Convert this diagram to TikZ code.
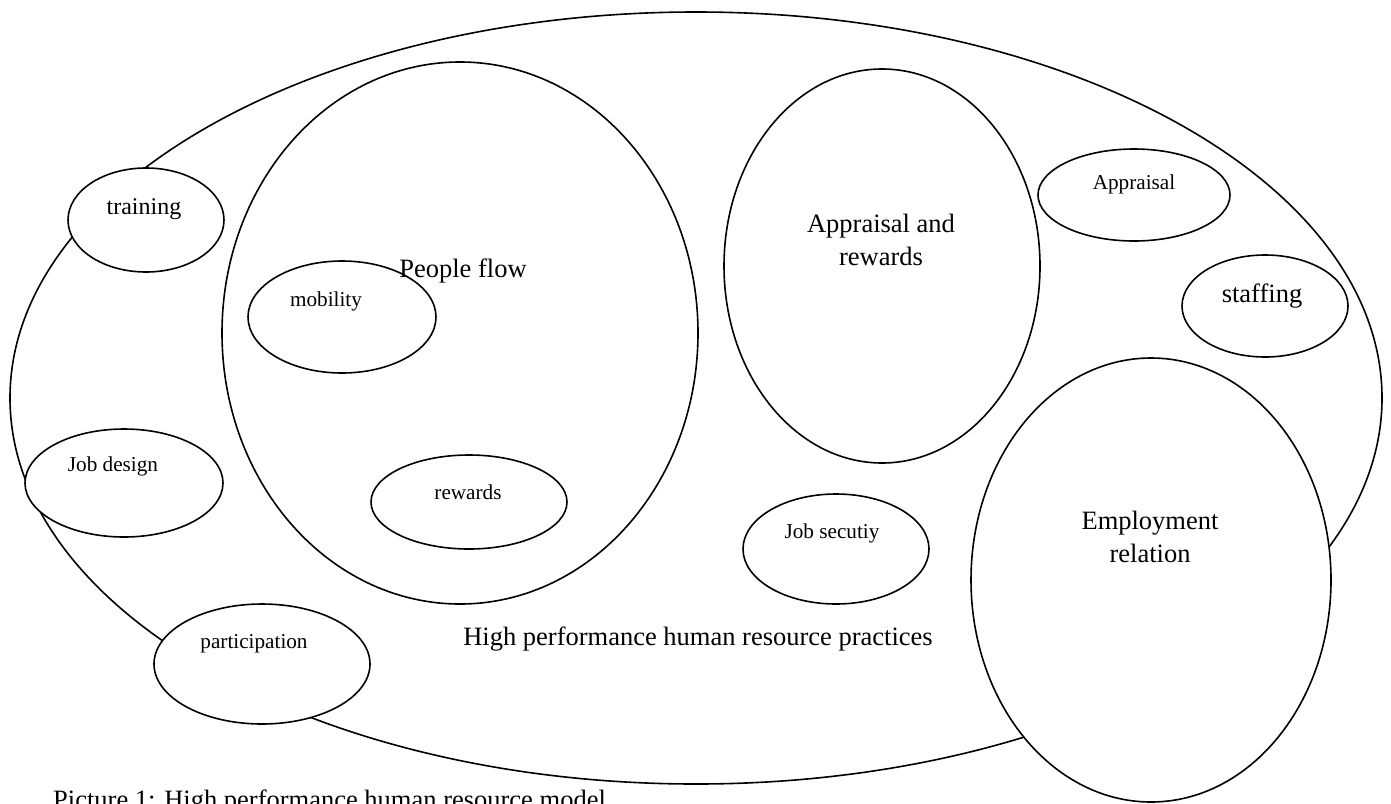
\documentclass[tikz,border=0pt]{standalone}
\usepackage{fontspec}
\setmainfont{Liberation Serif}
\usetikzlibrary{shapes.geometric}
\tikzset{
  oval/.style={ellipse, draw, fill=white, line width=1.6pt, inner sep=0pt},
  bigtext/.style={font=\fontsize{26.5}{32.5}\selectfont, align=center, inner sep=0pt},
  midtext/.style={font=\fontsize{24}{28}\selectfont, inner sep=0pt},
  smalltext/.style={font=\fontsize{21.2}{25}\selectfont, inner sep=0pt},
}
\begin{document}
\begin{tikzpicture}[x=1pt,y=-1pt]
\useasboundingbox (0,0) rectangle (1391,803);
% outer ellipse
\node[oval, minimum width=1372pt, minimum height=772pt] (outer) at (696,398) {};
% inner ellipses
\node[oval, minimum width=476pt, minimum height=542pt] (people) at (460,333) {};
\node[oval, minimum width=188pt, minimum height=112pt] (mobility) at (342,317) {};
\node[oval, minimum width=196pt, minimum height=94pt] (rewards) at (469,502) {};
\node[oval, minimum width=156pt, minimum height=104pt] (training) at (146,220) {};
\node[oval, minimum width=198pt, minimum height=108pt] (jobdesign) at (124,483) {};
\node[oval, minimum width=216pt, minimum height=120pt] (participation) at (262,664) {};
\node[oval, minimum width=316pt, minimum height=394pt] (apprew) at (882,266) {};
\node[oval, minimum width=192pt, minimum height=92pt] (appraisal) at (1134,195) {};
\node[oval, minimum width=166pt, minimum height=102pt] (staffing) at (1265,306) {};
\node[oval, minimum width=186pt, minimum height=110pt] (jobsec) at (836,549) {};
\node[oval, minimum width=360pt, minimum height=444pt] (employ) at (1151,580) {};
% labels
\node[bigtext] (tpeople) at (463,271) {People flow};
\node[smalltext] (tmobility) at (326,301) {mobility};
\node[smalltext] (trewards) at (468,492) {rewards};
\node[midtext] (ttraining) at (144,209) {training};
\node[smalltext] (tjobdesign) at (113,466) {Job design};
\node[smalltext] (tparticipation) at (254,644) {participation};
\node[bigtext] (tapprew) at (881,240) {Appraisal and\\rewards};
\node[smalltext] (tappraisal) at (1134,184) {Appraisal};
\node[bigtext] (tstaffing) at (1262,296) {staffing};
\node[smalltext] (tjobsec) at (832,533) {Job secutiy};
\node[bigtext] (temploy) at (1150,537) {Employment\\relation};
\node[bigtext] (touter) at (698,639) {High performance human resource practices};
\node[bigtext, anchor=base west] (caption) at (53,808) {Picture 1: High performance human resource model};
\end{tikzpicture}
\end{document}
